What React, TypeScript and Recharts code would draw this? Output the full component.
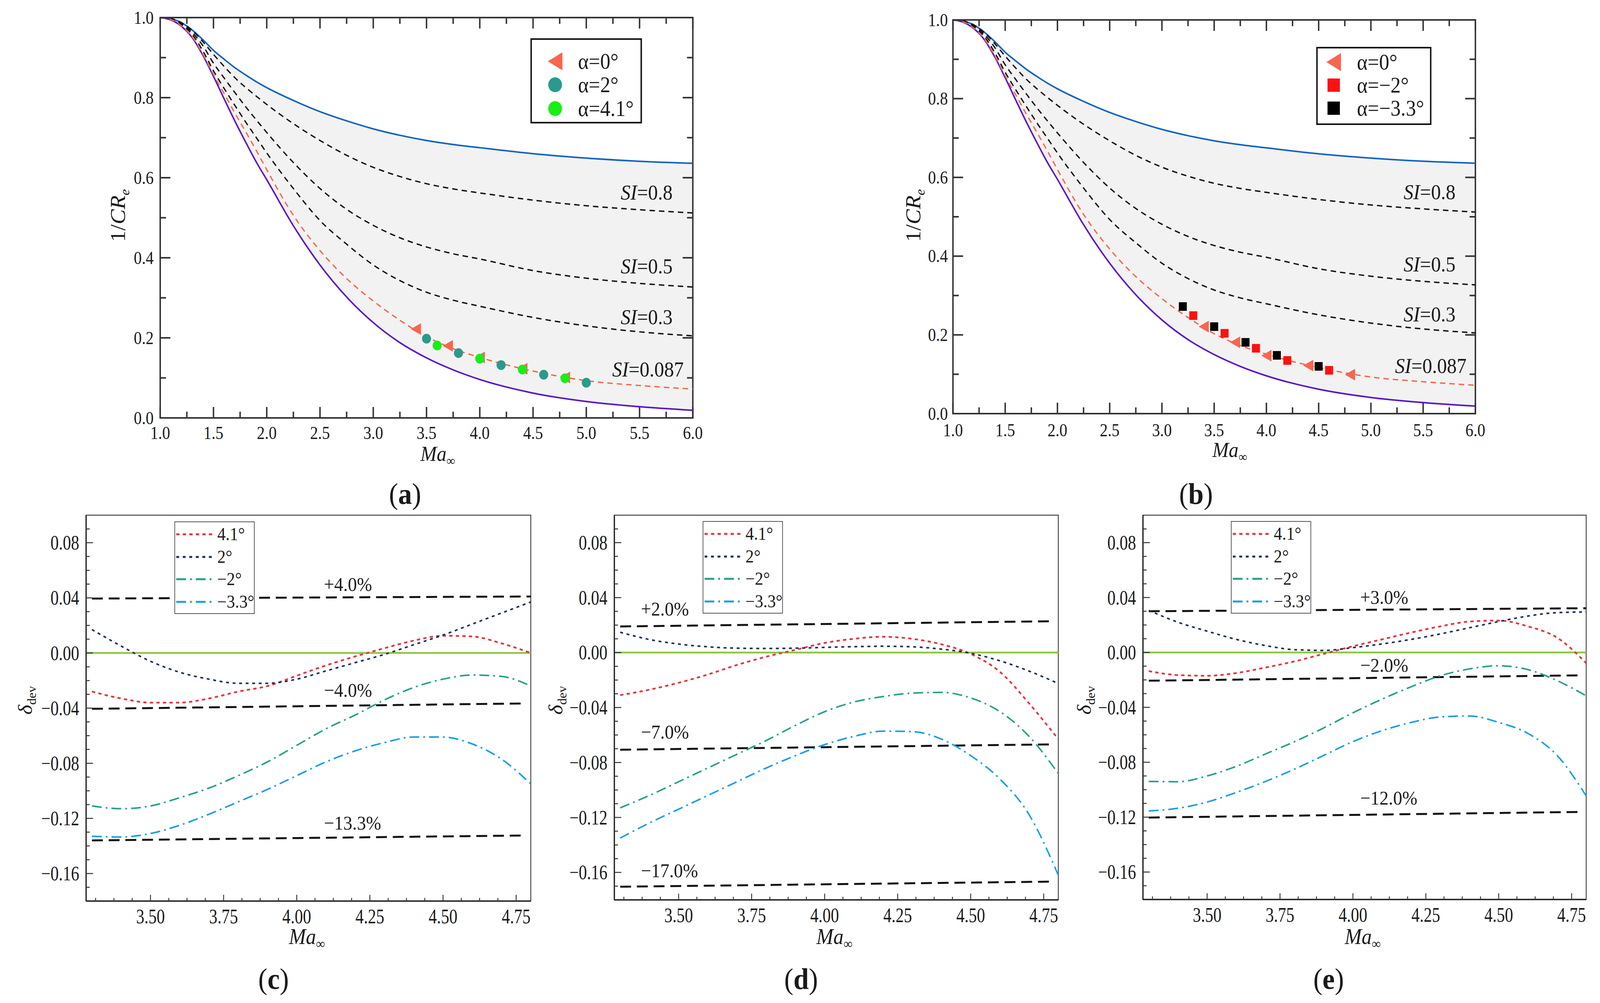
import React from 'react';
import {
  ComposedChart,
  Line,
  Area,
  Scatter,
  XAxis,
  YAxis,
  ReferenceArea,
  ReferenceLine,
} from 'recharts';

const SERIF = '"Liberation Serif", "Times New Roman", serif';
const INK = '#1a1a1a';
const FIG_W = 4404;
const FIG_H = 2568;

// ---------- (a)/(b): 1/CRe against Ma, bounded by the two solid curves
const MA_GRID = [1.0, 1.1, 1.2, 1.3, 1.4, 1.5, 1.6, 1.7, 1.8, 1.9, 2.0, 2.25, 2.5, 2.75, 3.0, 3.25, 3.5, 3.75, 4.0, 4.5, 5.0, 5.5, 6.0];
const CR_UPPER = [1.0, 0.997, 0.987, 0.969, 0.945, 0.918, 0.896, 0.875, 0.857, 0.84, 0.825, 0.793, 0.765, 0.742, 0.722, 0.706, 0.693, 0.683, 0.675, 0.66, 0.649, 0.641, 0.636];
const CR_SI08 = [1.0, 0.997, 0.987, 0.968, 0.94, 0.908, 0.878, 0.85, 0.826, 0.804, 0.783, 0.735, 0.693, 0.656, 0.626, 0.603, 0.585, 0.572, 0.562, 0.544, 0.53, 0.52, 0.512];
const CR_SI05 = [1.0, 0.997, 0.985, 0.963, 0.93, 0.886, 0.849, 0.813, 0.778, 0.745, 0.713, 0.638, 0.573, 0.521, 0.481, 0.45, 0.427, 0.41, 0.397, 0.368, 0.349, 0.336, 0.327];
const CR_SI03 = [1.0, 0.996, 0.982, 0.958, 0.917, 0.867, 0.823, 0.781, 0.74, 0.701, 0.662, 0.573, 0.493, 0.434, 0.382, 0.343, 0.314, 0.294, 0.279, 0.251, 0.23, 0.215, 0.205];
const CR_SI0087 = [1.0, 0.995, 0.979, 0.952, 0.909, 0.858, 0.81, 0.762, 0.716, 0.669, 0.62, 0.506, 0.418, 0.348, 0.292, 0.244, 0.203, 0.173, 0.151, 0.117, 0.093, 0.081, 0.072];
const CR_LOWER = [1.0, 0.994, 0.978, 0.95, 0.906, 0.853, 0.797, 0.742, 0.69, 0.64, 0.595, 0.48, 0.382, 0.302, 0.238, 0.188, 0.15, 0.12, 0.096, 0.062, 0.041, 0.028, 0.019];

const CR_X_MAJOR = [1, 1.5, 2, 2.5, 3, 3.5, 4, 4.5, 5, 5.5, 6];
const CR_X_MINOR = [1.25, 1.75, 2.25, 2.75, 3.25, 3.75, 4.25, 4.75, 5.25, 5.75];
const CR_Y_MAJOR = [0, 0.2, 0.4, 0.6, 0.8, 1.0];
const CR_Y_MINOR = [0.1, 0.3, 0.5, 0.7, 0.9];

const SI_LABEL_MA = [5.81, 5.81, 5.81, 5.915];
const SI_LABEL_V = [0.545, 0.361, 0.234, 0.103];
const SI_LABEL_TXT = ['0.8', '0.5', '0.3', '0.087'];

// markers, panel (a)
const A_TRI_MA = [3.4, 3.7, 4.0, 4.4, 4.8];
const A_TRI_V = [0.222, 0.18, 0.151, 0.123, 0.101];
const A_TEAL_MA = [3.5, 3.8, 4.2, 4.6, 5.0];
const A_TEAL_V = [0.198, 0.162, 0.132, 0.108, 0.088];
const A_GREEN_MA = [3.6, 4.0, 4.4, 4.8];
const A_GREEN_V = [0.181, 0.148, 0.121, 0.099];
// markers, panel (b)
const B_TRI_MA = [3.4, 3.7, 4.0, 4.4, 4.8];
const B_TRI_V = [0.221, 0.181, 0.147, 0.122, 0.099];
const B_BLACK_MA = [3.2, 3.5, 3.8, 4.1, 4.5];
const B_BLACK_V = [0.272, 0.221, 0.181, 0.148, 0.12];
const B_RED_MA = [3.3, 3.6, 3.9, 4.2, 4.6];
const B_RED_V = [0.249, 0.204, 0.166, 0.135, 0.11];

// ---------- (c)/(d)/(e): deviation against Ma
const DEV_MA = [3.3, 3.4, 3.5, 3.6, 3.7, 3.8, 3.9, 4.0, 4.1, 4.2, 4.3, 4.4, 4.5, 4.6, 4.7, 4.8];

const C_41 = [-0.028, -0.033, -0.036, -0.036, -0.033, -0.028, -0.024, -0.0165, -0.009, -0.0025, 0.0035, 0.009, 0.0125, 0.012, 0.007, 0.0];
const C_2 = [0.017, 0.005, -0.006, -0.014, -0.019, -0.022, -0.022, -0.019, -0.013, -0.007, -0.001, 0.006, 0.013, 0.021, 0.029, 0.037];
const C_M2 = [-0.111, -0.113, -0.111, -0.105, -0.098, -0.089, -0.079, -0.067, -0.055, -0.045, -0.034, -0.025, -0.019, -0.016, -0.017, -0.024];
const C_M33 = [-0.133, -0.1335, -0.131, -0.125, -0.117, -0.108, -0.099, -0.089, -0.079, -0.071, -0.065, -0.061, -0.061, -0.066, -0.077, -0.095];

const D_41 = [-0.031, -0.027, -0.022, -0.016, -0.009, -0.003, 0.002, 0.007, 0.01, 0.0115, 0.01, 0.006, -0.001, -0.014, -0.037, -0.063];
const D_2 = [0.0148, 0.0095, 0.0062, 0.0042, 0.0032, 0.003, 0.0032, 0.0038, 0.0043, 0.0046, 0.0042, 0.0025, -0.0005, -0.006, -0.0135, -0.0225];
const D_M2 = [-0.113, -0.104, -0.094, -0.084, -0.074, -0.064, -0.053, -0.043, -0.036, -0.032, -0.0295, -0.029, -0.033, -0.043, -0.061, -0.088];
const D_M33 = [-0.135, -0.124, -0.114, -0.104, -0.094, -0.084, -0.075, -0.067, -0.061, -0.0572, -0.0575, -0.063, -0.075, -0.092, -0.118, -0.162];

const E_41 = [-0.0136, -0.0165, -0.017, -0.015, -0.011, -0.0065, -0.001, 0.0045, 0.0095, 0.0145, 0.019, 0.0225, 0.0232, 0.019, 0.0108, -0.0078];
const E_2 = [0.0306, 0.022, 0.0155, 0.0095, 0.005, 0.002, 0.0015, 0.0035, 0.0062, 0.0095, 0.0135, 0.018, 0.0225, 0.0265, 0.029, 0.0295];
const E_M2 = [-0.094, -0.0942, -0.09, -0.083, -0.074, -0.065, -0.055, -0.044, -0.034, -0.025, -0.017, -0.012, -0.0097, -0.0125, -0.0205, -0.0316];
const E_M33 = [-0.1155, -0.1135, -0.109, -0.102, -0.094, -0.085, -0.075, -0.065, -0.057, -0.051, -0.047, -0.0463, -0.051, -0.059, -0.075, -0.1045];

// bound lines: start Ma, end Ma, value at start, value at end
const REF_START = 3.3;
const C_REF_END = [4.8, 4.78, 4.78];
const C_REF_V0 = [0.0395, -0.0405, -0.136];
const C_REF_V1 = [0.041, -0.0366, -0.1324];
const D_REF_END = [4.78, 4.78, 4.78];
const D_REF_V0 = [0.019, -0.0707, -0.1704];
const D_REF_V1 = [0.0228, -0.0668, -0.1667];
const E_REF_END = [4.8, 4.78, 4.78];
const E_REF_V0 = [0.03, -0.0206, -0.1203];
const E_REF_V1 = [0.0322, -0.0167, -0.1162];

const C_LBL_MA = [4.093, 4.093, 4.093];
const C_LBL_V = [0.045, -0.0319, -0.128];
const C_LBL_TXT = ['+4.0%', '\u22124.0%', '\u221213.3%'];
const D_LBL_MA = [3.371, 3.371, 3.371];
const D_LBL_V = [0.0268, -0.0626, -0.1635];
const D_LBL_TXT = ['+2.0%', '\u22127.0%', '\u221217.0%'];
const E_LBL_MA = [4.025, 4.025, 4.025];
const E_LBL_V = [0.0353, -0.0141, -0.1108];
const E_LBL_TXT = ['+3.0%', '\u22122.0%', '\u221212.0%'];

const DEV_X_MAJOR = [3.5, 3.75, 4.0, 4.25, 4.5, 4.75];
const DEV_X_MINOR = [3.3125, 3.375, 3.4375, 3.5625, 3.625, 3.6875, 3.8125, 3.875, 3.9375, 4.0625, 4.125, 4.1875, 4.3125, 4.375, 4.4375, 4.5625, 4.625, 4.6875];
const DEV_Y_MAJOR = [-0.16, -0.12, -0.08, -0.04, 0, 0.04, 0.08];
const DEV_Y_MINOR = [-0.17, -0.15, -0.14, -0.13, -0.11, -0.1, -0.09, -0.07, -0.06, -0.05, -0.03, -0.02, -0.01, 0.01, 0.02, 0.03, 0.05, 0.06, 0.07, 0.09];

const DEV_NAMES = ['4.1\u00b0', '2\u00b0', '\u22122\u00b0', '\u22123.3\u00b0'];

// ---------- layout (figure pixels of each plot area)
const GEO_A = { l: 441, t: 45, w: 1466, h: 1025 };
const GEO_B = { l: 2623, t: 51, w: 1438, h: 1008 };
const GEO_C = { l: 237, t: 1319, w: 1224, h: 988 };
const GEO_D = { l: 1691, t: 1319, w: 1222, h: 985 };
const GEO_E = { l: 3146, t: 1319, w: 1220, h: 984 };
const PAD = { l: 220, r: 40, t: 40, b: 140 };
const AX = 10;

const DEV_STYLE = [
  { key: 'a41', color: '#e8343f', dash: '9 9', w: 4.5 },
  { key: 'a2', color: '#1b2f55', dash: '8 10', w: 4 },
  { key: 'am2', color: '#26a08e', dash: '27 11 5 11', w: 4 },
  { key: 'am33', color: '#1a9ee6', dash: '27 11 5 11', w: 4 },
];

const pts = (xs: number[], ys: number[]) => xs.map((ma, i) => ({ ma, v: ys[i] }));
const sorted = (a: number[], b: number[]) => [...a, ...b].sort((p, q) => p - q);
const isIn = (list: number[], v: number) => list.some((m) => Math.abs(m - v) < 1e-6);
const minus = (v: number, d: number) => (v < -1e-9 ? '\u2212' + Math.abs(v).toFixed(d) : Math.abs(v).toFixed(d));

const crRows = MA_GRID.map((ma, i) => ({
  ma,
  upper: CR_UPPER[i],
  si08: CR_SI08[i],
  si05: CR_SI05[i],
  si03: CR_SI03[i],
  si0087: CR_SI0087[i],
  lower: CR_LOWER[i],
  band: [CR_LOWER[i], CR_UPPER[i]],
}));
const siLabels = SI_LABEL_MA.map((ma, i) => ({ ma, v: SI_LABEL_V[i], txt: SI_LABEL_TXT[i] }));

const devRows = (s41: number[], s2: number[], sm2: number[], sm33: number[]) =>
  DEV_MA.map((ma, i) => ({ ma, a41: s41[i], a2: s2[i], am2: sm2[i], am33: sm33[i] }));
const refLines = (ends: number[], v0: number[], v1: number[]) =>
  ends.map((end, i) => [
    { ma: REF_START, v: v0[i] },
    { ma: end, v: v1[i] },
  ]);
const pctLabels = (xs: number[], ys: number[], t: string[]) => xs.map((ma, i) => ({ ma, v: ys[i], txt: t[i] }));

type TickCfg = {
  majors: number[];
  fmt: (v: number) => string;
  major: number;
  minor: number;
  span: number;
  mirror: boolean;
  gap: number;
  size: number;
  sw: number;
  cond?: number; // horizontal condensing of the label glyphs
};

function TickLabel({ x, y, anchor, c, children }: any) {
  const k = c.cond ?? 1;
  return (
    <text
      transform={`translate(${x},${y}) scale(${k},1)`}
      textAnchor={anchor}
      fontFamily={SERIF}
      fontSize={c.size}
      fill={INK}
    >
      {children}
    </text>
  );
}

function bottomTick(c: TickCfg) {
  return (p: any) => {
    const v = Number(p.payload.value);
    const big = isIn(c.majors, v);
    const len = big ? c.major : c.minor;
    return (
      <g>
        <line x1={p.x} x2={p.x} y1={p.y} y2={p.y - len} stroke="#333" strokeWidth={c.sw} />
        {c.mirror && (
          <line x1={p.x} x2={p.x} y1={p.y - c.span} y2={p.y - c.span + len} stroke="#333" strokeWidth={c.sw} />
        )}
        {big && (
          <TickLabel x={p.x} y={p.y + c.gap} anchor="middle" c={c}>
            {c.fmt(v)}
          </TickLabel>
        )}
      </g>
    );
  };
}

function leftTick(c: TickCfg) {
  return (p: any) => {
    const v = Number(p.payload.value);
    const big = isIn(c.majors, v);
    const len = big ? c.major : c.minor;
    return (
      <g>
        <line x1={p.x} x2={p.x + len} y1={p.y} y2={p.y} stroke="#333" strokeWidth={c.sw} />
        {c.mirror && (
          <line x1={p.x + c.span} x2={p.x + c.span - len} y1={p.y} y2={p.y} stroke="#333" strokeWidth={c.sw} />
        )}
        {big && (
          <TickLabel x={p.x - c.gap} y={p.y + c.size * 0.34} anchor="end" c={c}>
            {c.fmt(v)}
          </TickLabel>
        )}
      </g>
    );
  };
}

// marker shapes
const triLeft = (w: number, h: number, color: string) => (p: any) => (
  <polygon points={`${p.cx - w / 2},${p.cy} ${p.cx + w / 2},${p.cy - h / 2} ${p.cx + w / 2},${p.cy + h / 2}`} fill={color} />
);
const disc = (r: number, color: string) => (p: any) => <circle cx={p.cx} cy={p.cy} r={r} fill={color} />;
const square = (s: number, color: string) => (p: any) => (
  <rect x={p.cx - s / 2} y={p.cy - s / 2} width={s} height={s} fill={color} />
);
const siText = (p: any) => (
  <text x={p.cx} y={p.cy} textAnchor="end" fontFamily={SERIF} fontSize={54} fill={INK}>
    <tspan fontStyle="italic">SI</tspan>
    {'=' + p.payload.txt}
  </text>
);
const pctText = (p: any) => (
  <text x={p.cx} y={p.cy} textAnchor="start" fontFamily={SERIF} fontSize={50} fill={INK}>
    {p.payload.txt}
  </text>
);

const COL_TRI = '#f7664f';
const COL_TEAL = '#2a9a8c';
const COL_GREEN = '#17ef17';
const COL_RED = '#ff1010';
const COL_BLACK = '#000000';

const A_MARKERS = [
  { id: 'tri', data: pts(A_TRI_MA, A_TRI_V), shape: triLeft(28, 30, COL_TRI) },
  { id: 'teal', data: pts(A_TEAL_MA, A_TEAL_V), shape: disc(12.5, COL_TEAL) },
  { id: 'green', data: pts(A_GREEN_MA, A_GREEN_V), shape: disc(12.5, COL_GREEN) },
];
const B_MARKERS = [
  { id: 'tri', data: pts(B_TRI_MA, B_TRI_V), shape: triLeft(28, 30, COL_TRI) },
  { id: 'black', data: pts(B_BLACK_MA, B_BLACK_V), shape: square(22, COL_BLACK) },
  { id: 'red', data: pts(B_RED_MA, B_RED_V), shape: square(22, COL_RED) },
];

function box(geo: { l: number; t: number; w: number; h: number }) {
  return {
    style: { position: 'absolute', left: geo.l - PAD.l, top: geo.t - PAD.t } as React.CSSProperties,
    width: geo.w + PAD.l + PAD.r,
    height: geo.h + PAD.t + PAD.b,
    margin: { top: PAD.t, right: PAD.r, bottom: PAD.b - AX, left: PAD.l - AX },
  };
}

function CrPanel({ geo, xGap, yGap, markers }: any) {
  const b = box(geo);
  const dashed = { strokeWidth: 3.5, strokeDasharray: '15 11', dot: false, type: 'monotone' as const, isAnimationActive: false };
  return (
    <div style={b.style}>
      <ComposedChart width={b.width} height={b.height} margin={b.margin} data={crRows}>
        <XAxis
          dataKey="ma"
          type="number"
          domain={[1, 6]}
          allowDataOverflow
          ticks={sorted(CR_X_MAJOR, CR_X_MINOR)}
          interval={0}
          height={AX}
          tickSize={0}
          tickMargin={0}
          axisLine={false}
          tickLine={false}
          tick={bottomTick({ majors: CR_X_MAJOR, fmt: (v) => v.toFixed(1), major: 28, minor: 16, span: geo.h, mirror: true, gap: xGap, size: 46, sw: 4, cond: 0.95 })}
        />
        <YAxis
          type="number"
          domain={[0, 1]}
          allowDataOverflow
          ticks={sorted(CR_Y_MAJOR, CR_Y_MINOR)}
          interval={0}
          width={AX}
          tickSize={0}
          tickMargin={0}
          axisLine={false}
          tickLine={false}
          tick={leftTick({ majors: CR_Y_MAJOR, fmt: (v) => v.toFixed(1), major: 28, minor: 16, span: geo.w, mirror: true, gap: yGap, size: 46, sw: 4, cond: 0.95 })}
        />
        <Area dataKey="band" type="monotone" stroke="none" fill="#f2f2f2" fillOpacity={1} isAnimationActive={false} />
        <Line dataKey="upper" stroke="#1464c0" strokeWidth={4} dot={false} type="monotone" isAnimationActive={false} />
        <Line dataKey="lower" stroke="#5b17c6" strokeWidth={4} dot={false} type="monotone" isAnimationActive={false} />
        <Line dataKey="si08" stroke="#111" {...dashed} />
        <Line dataKey="si05" stroke="#111" {...dashed} />
        <Line dataKey="si03" stroke="#111" {...dashed} />
        <Line dataKey="si0087" stroke="#f4694d" {...dashed} />
        {markers.map((m: any) => (
          <Scatter key={m.id} data={m.data} dataKey="v" shape={m.shape} isAnimationActive={false} />
        ))}
        <Scatter data={siLabels} dataKey="v" shape={siText} isAnimationActive={false} />
        <ReferenceArea x1={1} x2={6} y1={0} y2={1} fill="none" stroke="#333" strokeWidth={4} ifOverflow="visible" />
      </ComposedChart>
    </div>
  );
}

function DevPanel({ geo, rows, refs, labels }: any) {
  const b = box(geo);
  return (
    <div style={b.style}>
      <ComposedChart width={b.width} height={b.height} margin={b.margin} data={rows}>
        <XAxis
          dataKey="ma"
          type="number"
          domain={[3.28, 4.8]}
          allowDataOverflow
          ticks={sorted(DEV_X_MAJOR, DEV_X_MINOR)}
          interval={0}
          height={AX}
          tickSize={0}
          tickMargin={0}
          axisLine={{ stroke: '#222', strokeWidth: 3.5 }}
          tickLine={false}
          tick={bottomTick({ majors: DEV_X_MAJOR, fmt: (v) => v.toFixed(2), major: 16, minor: 8, span: geo.h, mirror: false, gap: 57, size: 52, sw: 2.5, cond: 0.87 })}
        />
        <YAxis
          type="number"
          domain={[-0.18, 0.1]}
          allowDataOverflow
          ticks={sorted(DEV_Y_MAJOR, DEV_Y_MINOR)}
          interval={0}
          width={AX}
          tickSize={0}
          tickMargin={0}
          axisLine={{ stroke: '#222', strokeWidth: 3.5 }}
          tickLine={false}
          tick={leftTick({ majors: DEV_Y_MAJOR, fmt: (v) => minus(v, 2), major: 19, minor: 10, span: geo.w, mirror: false, gap: 19, size: 52, sw: 2.5, cond: 0.87 })}
        />
        <ReferenceLine y={0} stroke="#8cc63f" strokeWidth={4.5} />
        {refs.map((r: any, i: number) => (
          <Line key={'ref' + i} data={r} dataKey="v" stroke="#111" strokeWidth={5} strokeDasharray="30 16" dot={false} type="linear" isAnimationActive={false} />
        ))}
        {DEV_STYLE.map((s) => (
          <Line key={s.key} dataKey={s.key} stroke={s.color} strokeWidth={s.w} strokeDasharray={s.dash} dot={false} type="monotone" isAnimationActive={false} />
        ))}
        <Scatter data={labels} dataKey="v" shape={pctText} isAnimationActive={false} />
        <ReferenceArea x1={3.28} x2={4.8} y1={-0.18} y2={0.1} fill="none" stroke="#444" strokeWidth={2.5} ifOverflow="visible" />
      </ComposedChart>
    </div>
  );
}

function Txt({ x, y, size = 54, rotate = false, children }: any) {
  return (
    <div
      style={{
        position: 'absolute',
        left: x,
        top: y,
        transform: `translate(-50%, -50%)${rotate ? ' rotate(-90deg)' : ''}`,
        fontFamily: SERIF,
        fontSize: size,
        lineHeight: 1,
        whiteSpace: 'nowrap',
        color: INK,
      }}
    >
      {children}
    </div>
  );
}

const Sub = ({ children }: any) => (
  <span style={{ fontSize: '0.62em', position: 'relative', top: '0.32em' }}>{children}</span>
);
const MaTitle = () => (
  <>
    <i>Ma</i>
    <Sub>∞</Sub>
  </>
);
const CrTitle = () => (
  <>
    1/<i>CR</i>
    <Sub>
      <i>e</i>
    </Sub>
  </>
);
const DevTitle = () => (
  <>
    <i>δ</i>
    <Sub>dev</Sub>
  </>
);
const PanelTag = ({ x, y, ch }: any) => (
  <Txt x={x} y={y} size={76}>
    (<b>{ch}</b>)
  </Txt>
);

function MarkerLegend({ left, top, width, height, rows, markX, textX, items }: any) {
  return (
    <div
      style={{ position: 'absolute', left, top, width, height, border: '4px solid #111', background: '#fff', boxSizing: 'border-box' }}
    >
      {items.map((it: any, i: number) => (
        <div key={it.label} style={{ position: 'absolute', left: 0, top: rows[i] - 30, height: 60, width: '100%' }}>
          <svg width={50} height={60} style={{ position: 'absolute', left: markX - 25, top: 0 }}>
            {it.kind === 'tri' && <polygon points="5,30 45,7 45,53" fill={it.color} />}
            {it.kind === 'disc' && <circle cx={25} cy={30} r={19} fill={it.color} />}
            {it.kind === 'sq' && <rect x={8} y={13} width={34} height={34} fill={it.color} />}
          </svg>
          <span style={{ position: 'absolute', left: textX, top: 0, lineHeight: '60px', fontFamily: SERIF, fontSize: 56, color: INK }}>
            {it.label}
          </span>
        </div>
      ))}
    </div>
  );
}

function DevLegend({ left, top }: any) {
  return (
    <div
      style={{ position: 'absolute', left, top, width: 221, height: 237, border: '2px solid #555', background: '#fff', boxSizing: 'border-box' }}
    >
      {DEV_STYLE.map((s, i) => (
        <div key={s.key} style={{ position: 'absolute', left: 3, top: 31 + i * 57.5 - 25, height: 50, width: 215 }}>
          <svg width={108} height={50} style={{ position: 'absolute', left: 0, top: 0 }}>
            <line x1={0} x2={108} y1={25} y2={25} stroke={s.color} strokeWidth={5} strokeDasharray={s.dash} />
          </svg>
          <span style={{ position: 'absolute', left: 113, top: 0, lineHeight: '50px', fontFamily: SERIF, fontSize: 46, color: INK }}>
            {DEV_NAMES[i]}
          </span>
        </div>
      ))}
    </div>
  );
}

export default function App() {
  // the browser viewport can be narrower than the figure; squeeze x so the whole figure shows
  const vw = typeof window !== 'undefined' && window.innerWidth ? window.innerWidth : FIG_W;
  const sx = Math.min(1, vw / FIG_W);
  return (
    <div style={{ width: Math.floor(FIG_W * sx), height: FIG_H, overflow: 'hidden', background: '#fff' }}>
      <style>{'body{margin:0;background:#fff}'}</style>
      <div
        style={{
          position: 'relative',
          width: FIG_W,
          height: FIG_H,
          background: '#fff',
          transform: `scaleX(${sx})`,
          transformOrigin: '0 0',
        }}
      >
        <CrPanel geo={GEO_A} xGap={54} yGap={18} markers={A_MARKERS} />
        <CrPanel geo={GEO_B} xGap={58} yGap={14} markers={B_MARKERS} />
        <DevPanel
          geo={GEO_C}
          rows={devRows(C_41, C_2, C_M2, C_M33)}
          refs={refLines(C_REF_END, C_REF_V0, C_REF_V1)}
          labels={pctLabels(C_LBL_MA, C_LBL_V, C_LBL_TXT)}
        />
        <DevPanel
          geo={GEO_D}
          rows={devRows(D_41, D_2, D_M2, D_M33)}
          refs={refLines(D_REF_END, D_REF_V0, D_REF_V1)}
          labels={pctLabels(D_LBL_MA, D_LBL_V, D_LBL_TXT)}
        />
        <DevPanel
          geo={GEO_E}
          rows={devRows(E_41, E_2, E_M2, E_M33)}
          refs={refLines(E_REF_END, E_REF_V0, E_REF_V1)}
          labels={pctLabels(E_LBL_MA, E_LBL_V, E_LBL_TXT)}
        />

        <MarkerLegend
          left={1460}
          top={98}
          width={307}
          height={218}
          rows={[55, 115, 176]}
          markX={64}
          textX={127}
          items={[
            { label: 'α=0°', kind: 'tri', color: COL_TRI },
            { label: 'α=2°', kind: 'disc', color: COL_TEAL },
            { label: 'α=4.1°', kind: 'disc', color: COL_GREEN },
          ]}
        />
        <MarkerLegend
          left={3623}
          top={120}
          width={317}
          height={200}
          rows={[35, 94, 153]}
          markX={44}
          textX={108}
          items={[
            { label: 'α=0°', kind: 'tri', color: COL_TRI },
            { label: 'α=\u22122°', kind: 'sq', color: COL_RED },
            { label: 'α=\u22123.3°', kind: 'sq', color: COL_BLACK },
          ]}
        />
        <DevLegend left={480} top={1335} />
        <DevLegend left={1934} top={1334} />
        <DevLegend left={3388} top={1334} />

        <Txt x={1205} y={1162}>
          <MaTitle />
        </Txt>
        <Txt x={3385} y={1152}>
          <MaTitle />
        </Txt>
        <Txt x={845} y={2398} size={56}>
          <MaTitle />
        </Txt>
        <Txt x={2297} y={2398} size={56}>
          <MaTitle />
        </Txt>
        <Txt x={3751} y={2398} size={56}>
          <MaTitle />
        </Txt>

        <Txt x={325} y={552} size={58} rotate>
          <CrTitle />
        </Txt>
        <Txt x={2514} y={552} size={58} rotate>
          <CrTitle />
        </Txt>
        <Txt x={70} y={1793} rotate>
          <DevTitle />
        </Txt>
        <Txt x={1530} y={1793} rotate>
          <DevTitle />
        </Txt>
        <Txt x={2985} y={1793} rotate>
          <DevTitle />
        </Txt>

        <PanelTag x={1115} y={1264} ch="a" />
        <PanelTag x={3292} y={1264} ch="b" />
        <PanelTag x={753} y={2506} ch="c" />
        <PanelTag x={2205} y={2506} ch="d" />
        <PanelTag x={3657} y={2506} ch="e" />
      </div>
    </div>
  );
}
